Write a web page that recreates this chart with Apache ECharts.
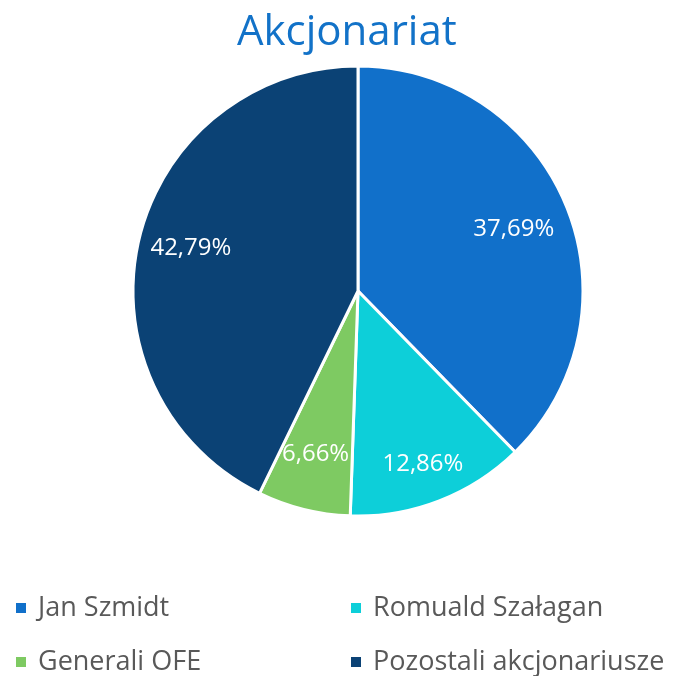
<!DOCTYPE html>
<html>
<head>
<meta charset="utf-8">
<script src="https://cdn.jsdelivr.net/npm/echarts@6/dist/echarts.min.js"></script>
<style>html,body{margin:0;padding:0;background:#fff;}#c{width:673px;height:676px;}</style>
</head>
<body>
<div id="c"></div>
<script>
const titleText = 'Akcjonariat';
const categories = ['Jan Szmidt', 'Romuald Szałagan', 'Generali OFE', 'Pozostali akcjonariusze'];
const values = [37.69, 12.86, 6.66, 42.79];
const colors = ['#1170CA', '#0DCFD9', '#7ECA62', '#0B4275'];

const labelNudges = [[-3, 3], [3, 13], [-1, -3], [0, -4]];

const data = categories.map((n, i) => ({ name: n, value: values[i], itemStyle: { color: colors[i] } }));
const fmt = p => p.value.toFixed(2).replace('.', ',') + '%';
const font = '"Open Sans", sans-serif';

const legendBase = {
  orient: 'vertical', top: 594, padding: 0, height: 82,
  icon: 'rect', itemWidth: 12, itemHeight: 12, itemGap: 26,
  textStyle: { fontFamily: font, fontSize: 27, color: '#595959', lineHeight: 28, padding: [0, 0, 0, 6] }
};

const chart = echarts.init(document.getElementById('c'));
chart.setOption({
  animation: false,
  title: {
    text: titleText, left: 232, top: 7,
    textStyle: { fontFamily: font, fontSize: 42, fontWeight: 'normal', color: '#1272C8' }
  },
  legend: [
    Object.assign({}, legendBase, { data: [categories[0], categories[2]], left: 14 }),
    Object.assign({}, legendBase, { data: [categories[1], categories[3]], left: 349 })
  ],
  series: [
    {
      type: 'pie', center: [358, 291], radius: [0, 225], startAngle: 90, clockwise: true,
      data: data, label: { show: false }, labelLine: { show: false },
      itemStyle: { borderColor: '#fff', borderWidth: 3 }
    },
    {
      type: 'pie', center: [358, 291], radius: [112, 225], startAngle: 90, clockwise: true,
      data: categories.map((n, i) => ({ name: n, value: values[i], label: { offset: labelNudges[i] } })),
      silent: true, legendHoverLink: false,
      itemStyle: { color: 'rgba(0,0,0,0)', borderWidth: 0 },
      label: { show: true, position: 'inside', formatter: fmt, fontFamily: font, fontSize: 24, color: '#fff' },
      labelLine: { show: false }
    }
  ]
});
</script>
</body>
</html>
